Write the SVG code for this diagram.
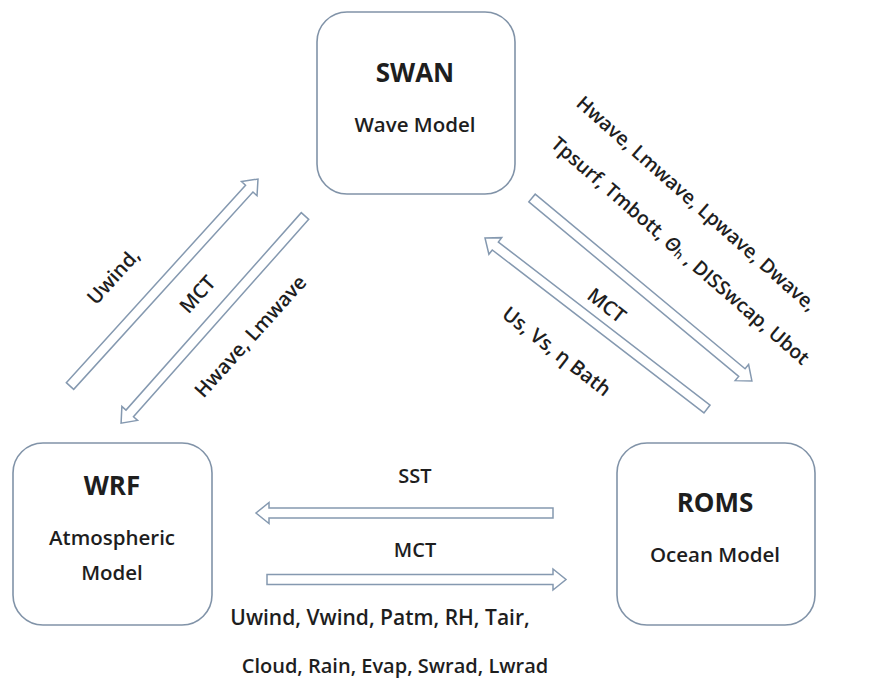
<svg xmlns="http://www.w3.org/2000/svg" width="873" height="684" viewBox="0 0 873 684">
<style>
.box{fill:#fff;stroke:#8193a8;stroke-width:1.6}
.arr{fill:#fff;stroke:#8599b0;stroke-width:1.5;stroke-linejoin:miter}
.t{font-family:"Open Sans","Liberation Sans",sans-serif;fill:#1e1e1e;text-anchor:middle}
.title{font-size:26px;font-weight:700}
.sub{font-size:20.5px;font-weight:600}
.lab{font-size:20px;font-weight:600}
.c{dominant-baseline:central}
</style>
<rect width="873" height="684" fill="#fff"/>
<g id="connectors">
  <polygon class="arr" transform="translate(70,386) rotate(-47.75)" points="0,-5 266.6,-5 266.6,-10.5 279.6,0 266.6,10.5 266.6,5 0,5"/>
  <polygon class="arr" transform="translate(305,216) rotate(131.6)" points="0,-5 264,-5 264,-10.5 277,0 264,10.5 264,5 0,5"/>
  <polygon class="arr" transform="translate(707,409) rotate(-142.4)" points="0,-5 267.2,-5 267.2,-10.5 280.2,0 267.2,10.5 267.2,5 0,5"/>
  <polygon class="arr" transform="translate(532,198) rotate(39.75)" points="0,-5 273,-5 273,-10.5 286,0 273,10.5 273,5 0,5"/>
  <polygon class="arr" transform="translate(553,513) rotate(180)" points="0,-5 284,-5 284,-10.5 297,0 284,10.5 284,5 0,5"/>
  <polygon class="arr" transform="translate(267,579.5)" points="0,-5 286,-5 286,-10.5 299,0 286,10.5 286,5 0,5"/>
</g>
<g id="labels">
  <text class="t lab c" transform="translate(113,276) rotate(-47.75)">Uwind,</text>
  <text class="t lab c" transform="translate(197,294) rotate(-48)">MCT</text>
  <text class="t lab c" transform="translate(250,336) rotate(-48)">Hwave, Lmwave</text>
  <text class="t lab c" transform="translate(607,305) rotate(38)">MCT</text>
  <text class="t lab c" transform="translate(557,351) rotate(38)">Us, Vs, η Bath</text>
  <text class="t lab c" style="font-size:19.5px" transform="translate(697,203) rotate(41.5)">Hwave, Lmwave, Lpwave, Dwave,</text>
  <text class="t lab c" style="font-size:19.5px" transform="translate(681,250) rotate(41)">Tpsurf, Tmbott, <tspan font-style="italic">Θ</tspan><tspan font-size="12" dy="4">h</tspan><tspan dy="-4"> , DISSwcap, Ubot</tspan></text>
  <text class="t lab" x="415" y="483">SST</text>
  <text class="t lab" x="415" y="557">MCT</text>
  <text class="t lab" x="380" y="625" style="font-size:21px">Uwind, Vwind, Patm, RH, Tair,</text>
  <text class="t lab" x="395" y="673">Cloud, Rain, Evap, Swrad, Lwrad</text>
</g>
<g id="swan">
  <rect class="box" x="317" y="12" width="198" height="182" rx="30"/>
  <text class="t title" x="415" y="82">SWAN</text>
  <text class="t sub" x="415" y="132">Wave Model</text>
</g>
<g id="wrf">
  <rect class="box" x="13" y="443" width="199" height="182" rx="30"/>
  <text class="t title" x="112" y="495">WRF</text>
  <text class="t sub" x="112" y="545">Atmospheric</text>
  <text class="t sub" x="112" y="580">Model</text>
</g>
<g id="roms">
  <rect class="box" x="617" y="443" width="198" height="182" rx="30"/>
  <text class="t title" x="715" y="512">ROMS</text>
  <text class="t sub" x="715" y="562">Ocean Model</text>
</g>
</svg>
